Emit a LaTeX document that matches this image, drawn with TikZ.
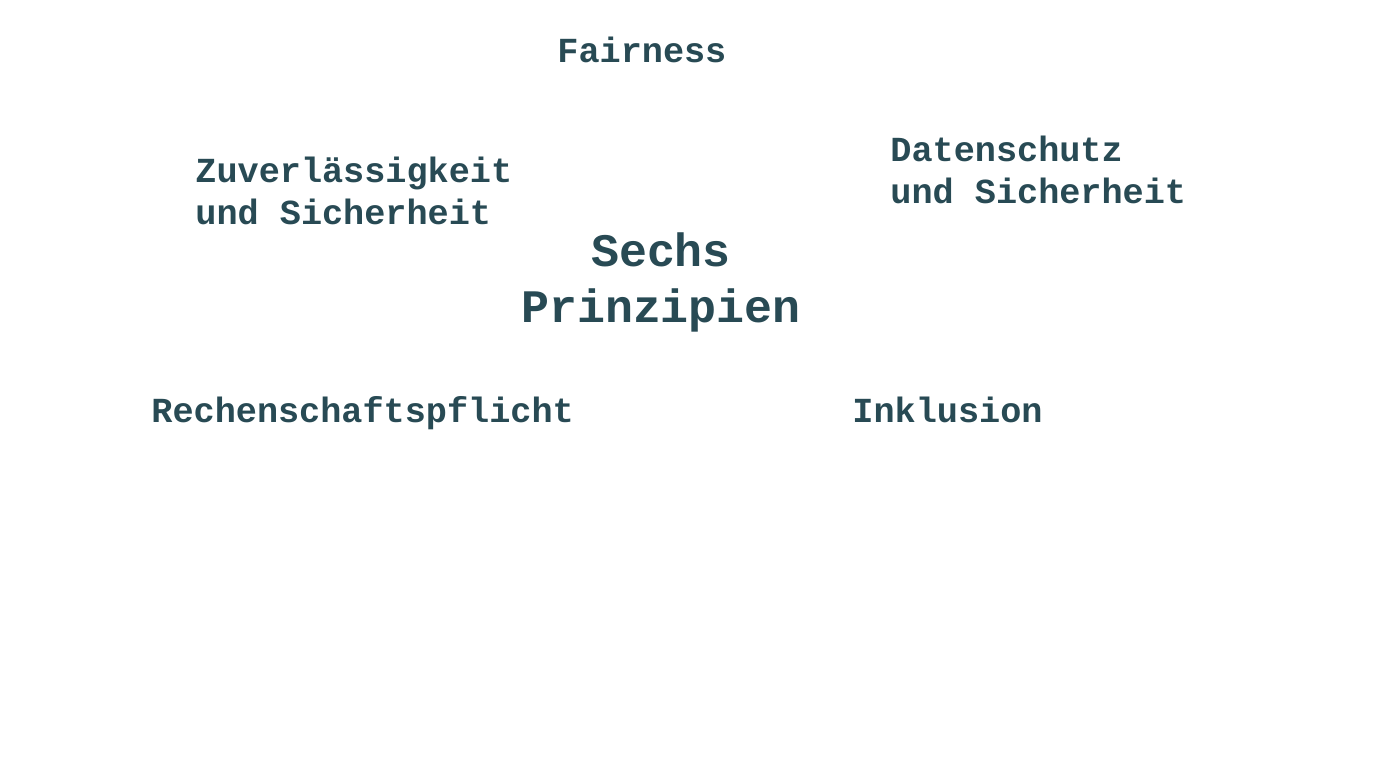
\documentclass[tikz,border=0pt]{standalone}
\usepackage{fontspec}
\setmainfont{Liberation Mono}
\usepackage{xcolor}
\definecolor{slateTeal}{RGB}{40,74,84}

\begin{document}
\begin{tikzpicture}[x=0.5pt, y=-0.5pt,
    principle/.style={text=slateTeal, font=\bfseries\fontsize{17.6}{21}\selectfont, inner sep=0pt, align=left, anchor=west},
    hub/.style={text=slateTeal, font=\bfseries\fontsize{23.3}{28}\selectfont, inner sep=0pt, align=center}]
	\fill[white] (0,0) rectangle (1392,768);
	\useasboundingbox (0,0) rectangle (1392,768);
	\node[hub] (center) at (661,282) {Sechs\\Prinzipien};
	\node[principle] (fairness) at (557,50) {Fairness};
	\node[principle] (reliability) at (195,191) {Zuverlässigkeit\\und Sicherheit};
	\node[principle] (privacy) at (890,170) {Datenschutz\\und Sicherheit};
	\node[principle] (accountability) at (151,413) {Rechenschaftspflicht};
	\node[principle] (inclusion) at (852,410) {Inklusion};
\end{tikzpicture}
\end{document}
